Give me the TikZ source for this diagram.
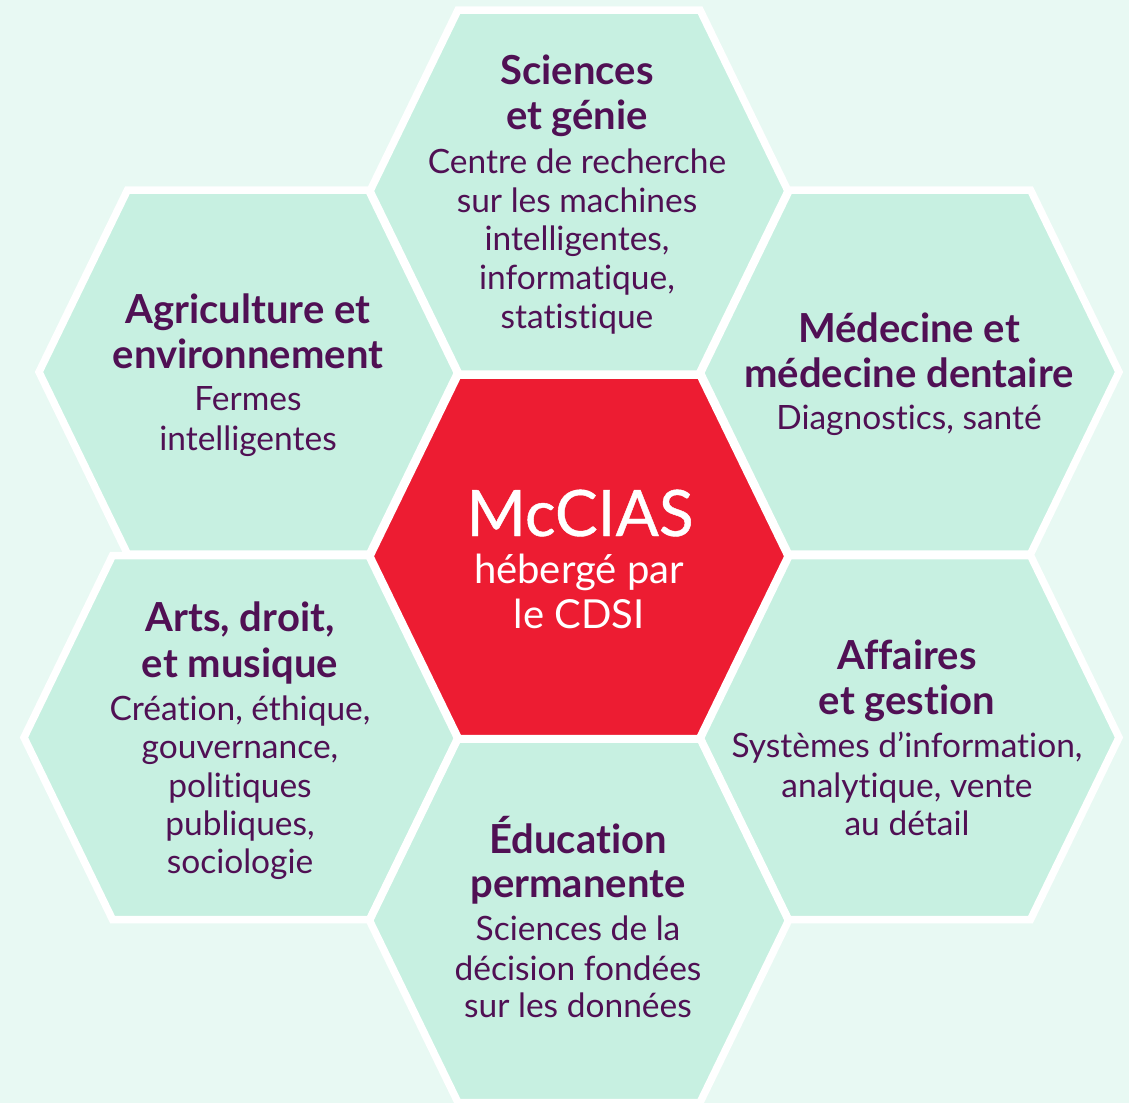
\documentclass[tikz,border=0pt]{standalone}
\usepackage{fontspec}
\setmainfont{Lato}[Ligatures=NoCommon]
\newfontfamily\latomed{Lato}[Ligatures=NoCommon, FakeBold=0.7]
\definecolor{bgmint}{RGB}{232,249,243}
\definecolor{hexfill}{RGB}{199,240,225}
\definecolor{hexred}{RGB}{237,28,50}
\definecolor{ink}{RGB}{80,16,84}
\tikzset{
  innerwhite/.style={draw=white, line width=7.5pt, line join=miter},
  ttl/.style={font=\bfseries\fontsize{40}{44}\selectfont, text=ink, inner sep=0pt, anchor=base},
  txt/.style={font=\fontsize{33.5}{38}\selectfont, text=ink, inner sep=0pt, anchor=base},
  ctitle/.style={font=\latomed\fontsize{64}{70}\selectfont, text=white, inner sep=0pt, anchor=base},
  csub/.style={font=\fontsize{40}{44}\selectfont, text=white, inner sep=0pt, anchor=base},
}
\newcommand\hexlist{579/192/0/hexfill, 579/557/0/hexred, 579/920.5/0/hexfill,
  248.5/372/0/hexfill, 909.5/372/0/hexfill, 909.5/737.5/0/hexfill, 248.5/737.5/15/hexfill}
\begin{document}
\begin{tikzpicture}[x=1pt,y=-1pt]
\useasboundingbox (0,0) rectangle (1129,1103);
\fill[bgmint] (0,0) rectangle (1129,1103);
% fills
\foreach \cx/\cy/\e/\c in \hexlist {
  \fill[\c] ({\cx-209.5-\e},\cy) -- ({\cx-121-\e},{\cy-182}) -- ({\cx+121},{\cy-182}) -- ({\cx+209.5},\cy)
    -- ({\cx+121},{\cy+182}) -- ({\cx-121-\e},{\cy+182}) -- cycle;
}
% white gaps and borders
\foreach \cx/\cy/\e/\c in \hexlist {
  \draw[innerwhite] ({\cx-209.5-\e},\cy) -- ({\cx-121-\e},{\cy-182}) -- ({\cx+121},{\cy-182}) -- ({\cx+209.5},\cy)
    -- ({\cx+121},{\cy+182}) -- ({\cx-121-\e},{\cy+182}) -- cycle;
}
% top: Sciences et genie
\node[ttl] (sg1) at (577,84) {Sciences};
\node[ttl] (sg2) at (577,129) {et génie};
\node[txt] (sg3) at (577,173) {Centre de recherche};
\node[txt] (sg4) at (577,212) {sur les machines};
\node[txt] (sg5) at (577,250) {intelligentes,};
\node[txt] (sg6) at (577,289) {informatique,};
\node[txt] (sg7) at (577,328) {statistique};
% upper left
\node[ttl] (ag1) at (248,323) {Agriculture et};
\node[ttl] (ag2) at (248,368) {environnement};
\node[txt] (ag3) at (248,410) {Fermes};
\node[txt] (ag4) at (248,450) {intelligentes};
% upper right
\node[ttl] (md1) at (909,342) {Médecine et};
\node[ttl] (md2) at (909,387) {médecine dentaire};
\node[txt] (md3) at (909,429) {Diagnostics, santé};
% centre
\node[ctitle] (mc1) at (580,536) {McCIAS};
\node[csub] (mc2) at (579,583) {hébergé par};
\node[csub] (mc3) at (579,628) {le CDSI};
% lower left
\node[ttl] (ar1) at (240,631) {Arts, droit,};
\node[ttl] (ar2) at (240,677) {et musique};
\node[txt] (ar3) at (240,720) {Création, éthique,};
\node[txt] (ar4) at (240,758) {gouvernance,};
\node[txt] (ar5) at (240,797) {politiques};
\node[txt] (ar6) at (240,835) {publiques,};
\node[txt] (ar7) at (240,873) {sociologie};
% lower right
\node[ttl] (af1) at (907,669) {Affaires};
\node[ttl] (af2) at (907,714) {et gestion};
\node[txt] (af3) at (907,757) {Systèmes d’information,};
\node[txt] (af4) at (907,797) {analytique, vente};
\node[txt] (af5) at (907,835) {au détail};
% bottom
\node[ttl] (ed1) at (578,853) {Éducation};
\node[ttl] (ed2) at (578,897) {permanente};
\node[txt] (ed3) at (578,940) {Sciences de la};
\node[txt] (ed4) at (578,980) {décision fondées};
\node[txt] (ed5) at (578,1017) {sur les données};
\end{tikzpicture}
\end{document}
